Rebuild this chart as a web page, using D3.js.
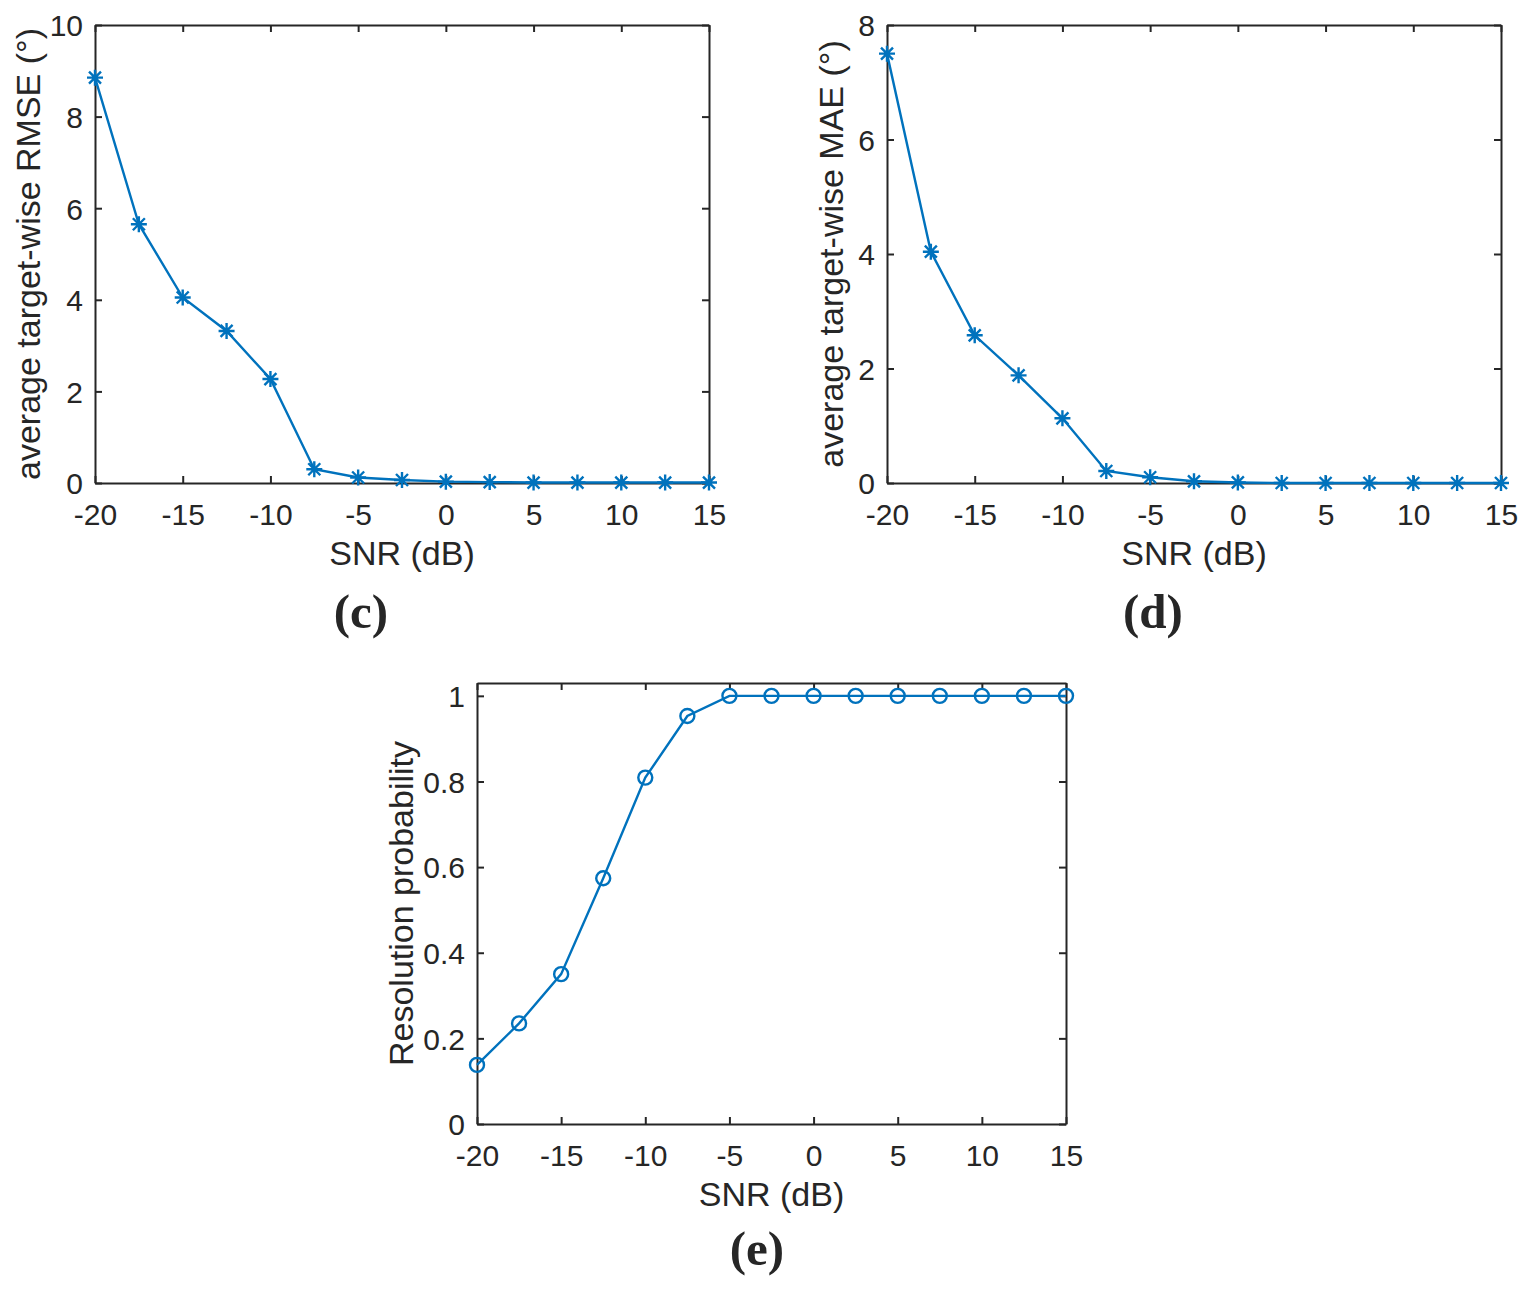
<!DOCTYPE html>
<html>
<head>
<meta charset="utf-8">
<script src="https://cdn.jsdelivr.net/npm/d3@7"></script>
<style>
    body { margin: 0; background: #fff; }
    text { font-family: "Liberation Sans", Arial, sans-serif; fill: #262626; }
    .panelTag { font-family: "Liberation Serif", "Times New Roman", serif; font-weight: bold; }
</style>
</head>
<body>
<svg id="chart" width="1531" height="1290"></svg>
<script>
// SNR steps (dB)
var snr = [-20, -17.5, -15, -12.5, -10, -7.5, -5, -2.5, 0, 2.5, 5, 7.5, 10, 12.5, 15];
// (c) average target-wise RMSE
var rmse = [8.85, 5.65, 4.05, 3.32, 2.27, 0.30, 0.12, 0.065, 0.03, 0.02, 0.01, 0.01, 0.01, 0.01, 0.01];
// (d) average target-wise MAE
var mae = [7.5, 4.04, 2.58, 1.88, 1.13, 0.21, 0.10, 0.03, 0.01, 0, 0, 0, 0, 0, 0];
// (e) resolution probability
var prob = [0.138, 0.235, 0.35, 0.574, 0.809, 0.953, 1, 1, 1, 1, 1, 1, 1, 1, 1];

var xTicks = [-20, -15, -10, -5, 0, 5, 10, 15];
var rmseTicks = [0, 2, 4, 6, 8, 10];
var maeTicks = [0, 2, 4, 6, 8];
var probTicks = [0, 0.2, 0.4, 0.6, 0.8, 1];

var lineColor = "#0072BD";
var axisColor = "#262626";

var svg = d3.select("#chart");

function star(g, x, y)
{
    var s = 8, d = 6;
    g.append("path")
        .attr("d", "M" + (x - s) + "," + y + "H" + (x + s) +
                   "M" + x + "," + (y - s) + "V" + (y + s) +
                   "M" + (x - d) + "," + (y - d) + "L" + (x + d) + "," + (y + d) +
                   "M" + (x - d) + "," + (y + d) + "L" + (x + d) + "," + (y - d))
        .attr("stroke", lineColor)
        .attr("stroke-width", 2.4)
        .attr("fill", "none");
}

function drawPanel(opt)
{
    var w = opt.right - opt.left, h = opt.bottom - opt.top;
    var g = svg.append("g").attr("transform", "translate(" + opt.left + "," + opt.top + ")");

    var x = d3.scaleLinear().domain([-20, 15]).range([0, w]);
    var y = d3.scaleLinear().domain([0, opt.yMax]).range([h, 0]);

    //bottom / left axes with labels, ticks inward
    var xa = g.append("g").attr("transform", "translate(0," + h + ")")
        .call(d3.axisBottom(x).tickValues(xTicks).tickSizeInner(-7).tickSizeOuter(0).tickPadding(21)
            .tickFormat(function(d){ return String(d); }));
    var ya = g.append("g")
        .call(d3.axisLeft(y).tickValues(opt.yTicks).tickSizeInner(-7).tickSizeOuter(0).tickPadding(12)
            .tickFormat(function(d){ return String(+d.toFixed(1)); }));
    //top / right only ticks
    var xt = g.append("g")
        .call(d3.axisTop(x).tickValues(xTicks).tickSizeInner(-7).tickSizeOuter(0).tickFormat(""));
    var yr = g.append("g").attr("transform", "translate(" + w + ",0)")
        .call(d3.axisRight(y).tickValues(opt.yTicks).tickSizeInner(-7).tickSizeOuter(0).tickFormat(""));

    [xa, ya, xt, yr].forEach(function(a){
        a.selectAll("path, line").attr("stroke", axisColor).attr("stroke-width", 2);
        a.selectAll("text").style("font-size", "30px").attr("fill", axisColor);
    });
    ya.selectAll("text").attr("dy", "0.36em");

    var pts = snr.map(function(s, i){ return [s, opt.values[i]]; });
    var line = d3.line().x(function(d){ return x(d[0]); }).y(function(d){ return y(d[1]); });
    g.append("path")
        .datum(pts)
        .attr("d", line)
        .attr("fill", "none")
        .attr("stroke", lineColor)
        .attr("stroke-width", 2.4);

    pts.forEach(function(d){
        if(opt.marker == "star")
            star(g, x(d[0]), y(d[1]));
        else
            g.append("circle")
                .attr("cx", x(d[0]))
                .attr("cy", y(d[1]))
                .attr("r", 7)
                .attr("fill", "none")
                .attr("stroke", lineColor)
                .attr("stroke-width", 2.4);
    });

    g.append("text")
        .attr("x", w / 2)
        .attr("y", h + 82)
        .attr("text-anchor", "middle")
        .style("font-size", "34px")
        .text("SNR (dB)");

    g.append("text")
        .attr("transform", "translate(" + (-opt.yLabelOffset) + "," + (h / 2) + ") rotate(-90)")
        .attr("text-anchor", "middle")
        .style("font-size", "34px")
        .text(opt.yLabel);

    svg.append("text")
        .attr("class", "panelTag")
        .attr("x", opt.tagX)
        .attr("y", opt.tagY)
        .attr("text-anchor", "middle")
        .style("font-size", "49px")
        .text(opt.tag);
}

drawPanel({left: 95, right: 709, top: 25, bottom: 483, yMax: 10, yTicks: rmseTicks,
    values: rmse, marker: "star", yLabel: "average target-wise RMSE (\u00b0)", yLabelOffset: 55,
    tag: "(c)", tagX: 361, tagY: 628});
drawPanel({left: 887, right: 1501, top: 25, bottom: 483, yMax: 8, yTicks: maeTicks,
    values: mae, marker: "star", yLabel: "average target-wise MAE (\u00b0)", yLabelOffset: 44,
    tag: "(d)", tagX: 1153, tagY: 628});
drawPanel({left: 477, right: 1066, top: 683, bottom: 1124, yMax: 1.03, yTicks: probTicks,
    values: prob, marker: "circle", yLabel: "Resolution probability", yLabelOffset: 64,
    tag: "(e)", tagX: 757, tagY: 1265});
</script>
</body>
</html>
